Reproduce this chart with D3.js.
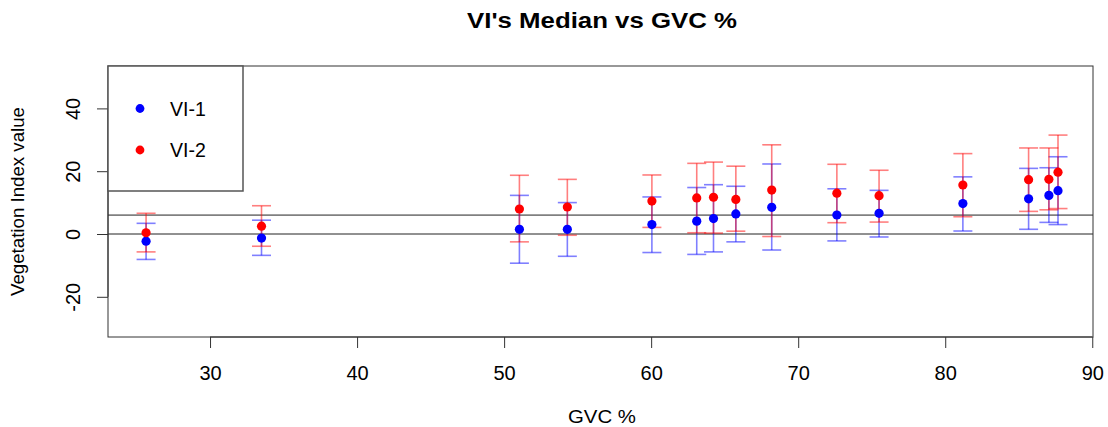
<!DOCTYPE html>
<html>
<head>
<meta charset="utf-8">
<script src="https://cdn.jsdelivr.net/npm/d3@7"></script>
<style>
  body { margin: 0; background: #fff; }
  svg text { font-family: "Liberation Sans", Arial, sans-serif; fill: #000; }
</style>
</head>
<body>
<script>
// GVC % on x, median VI with error bars on y
var gvc   = [25.65, 33.5, 51.04, 54.3, 60.05, 63.1, 64.24, 65.76, 68.2, 72.63, 75.5, 81.2, 85.67, 87.05, 87.67];
var vi1   = [-2.3, -1.3, 1.5, 1.5, 3.0, 4.1, 4.9, 6.4, 8.5, 6.05, 6.6, 9.7, 11.2, 12.3, 13.8];
var vi1Hi = [3.4, 4.4, 12.3, 10.0, 11.8, 14.8, 15.7, 15.2, 22.3, 14.4, 13.9, 18.2, 20.9, 21.1, 24.6];
var vi1Lo = [-8.1, -6.8, -9.3, -7.1, -5.9, -6.5, -5.7, -2.5, -5.1, -2.2, -0.95, 0.95, 1.5, 3.7, 3.0];
var vi2   = [0.4, 2.5, 7.96, 8.6, 10.5, 11.5, 11.7, 11.0, 14.0, 13.0, 12.2, 15.6, 17.3, 17.4, 19.7];
var vi2Hi = [6.6, 9.0, 18.7, 17.4, 18.8, 22.5, 22.9, 21.6, 28.4, 22.2, 20.3, 25.6, 27.4, 27.4, 31.5];
var vi2Lo = [-5.7, -3.9, -2.5, -0.4, 2.1, 0.4, 0.3, 0.9, -0.8, 3.6, 3.8, 5.5, 7.2, 7.7, 8.1];

var refLines = [0, 6];
var xTicks = [30, 40, 50, 60, 70, 80, 90];
var yTicks = [-20, 0, 20, 40];
var seriesNames = ["VI-1", "VI-2"];
var seriesColors = ["#0000ff", "#ff0000"];
var barColors = ["rgba(0,0,255,0.5)", "rgba(255,0,0,0.5)"];

var w = 1108, h = 427;
var box = { left: 108, right: 1093, top: 66, bottom: 337 };

var x = d3.scaleLinear().domain([23.06, 90.05]).range([box.left, box.right]);
var y = d3.scaleLinear().domain([-32.8, 53.5]).range([box.bottom, box.top]);

var svg = d3.select("body").append("svg").attr("width", w).attr("height", h);

svg.append("text").attr("x", 602).attr("y", 28).attr("text-anchor", "middle")
  .style("font-size", "22px").style("font-weight", "bold")
  .attr("textLength", 270).attr("lengthAdjust", "spacingAndGlyphs")
  .text("VI's Median vs GVC %");

// reference lines
svg.selectAll("line.ref").data(refLines).enter().append("line").attr("class", "ref")
  .attr("x1", box.left).attr("x2", box.right)
  .attr("y1", function (d) { return y(d); }).attr("y2", function (d) { return y(d); })
  .attr("stroke", function (d, i) { return i == 0 ? "#222" : "#808080"; })
  .attr("stroke-width", function (d, i) { return i == 0 ? 1 : 1.6; });

// series table
var series = [
  { name: seriesNames[0], v: vi1, lo: vi1Lo, hi: vi1Hi, i: 0 },
  { name: seriesNames[1], v: vi2, lo: vi2Lo, hi: vi2Hi, i: 1 }
];

var cap = 9.5;
series.forEach(function (s) {
  var g = svg.append("g");
  var rows = gvc.map(function (gx, k) { return { x: gx, lo: s.lo[k], hi: s.hi[k] }; });
  g.selectAll("line.v").data(rows).enter().append("line")
    .attr("x1", function (d) { return x(d.x); }).attr("x2", function (d) { return x(d.x); })
    .attr("y1", function (d) { return y(d.lo); }).attr("y2", function (d) { return y(d.hi); })
    .attr("stroke", barColors[s.i]).attr("stroke-width", 1.6);
  ["lo", "hi"].forEach(function (k) {
    g.selectAll("line." + k).data(rows).enter().append("line")
      .attr("x1", function (d) { return x(d.x) - cap; }).attr("x2", function (d) { return x(d.x) + cap; })
      .attr("y1", function (d) { return y(d[k]); }).attr("y2", function (d) { return y(d[k]); })
      .attr("stroke", barColors[s.i]).attr("stroke-width", 1.6);
  });
});

series.forEach(function (s) {
  svg.append("g").selectAll("circle").data(s.v).enter().append("circle")
    .attr("cx", function (d, k) { return x(gvc[k]); })
    .attr("cy", function (d) { return y(d); })
    .attr("r", 4.6).attr("fill", seriesColors[s.i]);
});

// plot box
svg.append("rect").attr("x", box.left).attr("y", box.top)
  .attr("width", box.right - box.left).attr("height", box.bottom - box.top)
  .attr("fill", "none").attr("stroke", "#333").attr("stroke-width", 1);

// x axis
var xAxis = svg.append("g").attr("transform", "translate(0," + box.bottom + ")")
  .call(d3.axisBottom(x).tickValues(xTicks).tickSize(11).tickPadding(18).tickFormat(String));
xAxis.select(".domain").remove();
xAxis.append("line").attr("x1", x(xTicks[0])).attr("x2", x(xTicks[xTicks.length - 1]))
  .attr("stroke", "#333");
xAxis.selectAll(".tick line").attr("stroke", "#333");
xAxis.selectAll("text").style("font-size", "20px").attr("fill", "#000");

// y axis
var yAxis = svg.append("g").attr("transform", "translate(" + box.left + ",0)")
  .call(d3.axisLeft(y).tickValues(yTicks).tickSize(11).tickFormat(String));
yAxis.select(".domain").remove();
yAxis.append("line").attr("y1", y(yTicks[0])).attr("y2", y(yTicks[yTicks.length - 1]))
  .attr("stroke", "#333");
yAxis.selectAll(".tick line").attr("stroke", "#333");
yAxis.selectAll("text").style("font-size", "20px").attr("fill", "#000")
  .attr("transform", "rotate(-90)").attr("x", 0).attr("y", -28).attr("dy", 0)
  .attr("text-anchor", "middle");

svg.append("text").attr("x", 602).attr("y", 423).attr("text-anchor", "middle")
  .style("font-size", "18px").attr("textLength", 68).attr("lengthAdjust", "spacingAndGlyphs")
  .text("GVC %");

svg.append("text").attr("transform", "translate(24," + ((box.top + box.bottom) / 2) + ") rotate(-90)")
  .attr("text-anchor", "middle").style("font-size", "19px")
  .attr("textLength", 189).attr("lengthAdjust", "spacingAndGlyphs")
  .text("Vegetation Index value");

// legend
var legend = svg.append("g");
legend.append("rect").attr("x", box.left).attr("y", box.top).attr("width", 135).attr("height", 125)
  .attr("fill", "#fff").attr("stroke", "#555").attr("stroke-width", 1.5);
var items = legend.selectAll("g.item").data(series).enter().append("g")
  .attr("transform", function (d, i) { return "translate(140," + (108.5 + i * 41.5) + ")"; });
items.append("circle").attr("r", 4.4).attr("fill", function (d) { return seriesColors[d.i]; });
items.append("text").attr("x", 30).attr("y", 7).style("font-size", "19.5px")
  .text(function (d) { return d.name; });
</script>
</body>
</html>
